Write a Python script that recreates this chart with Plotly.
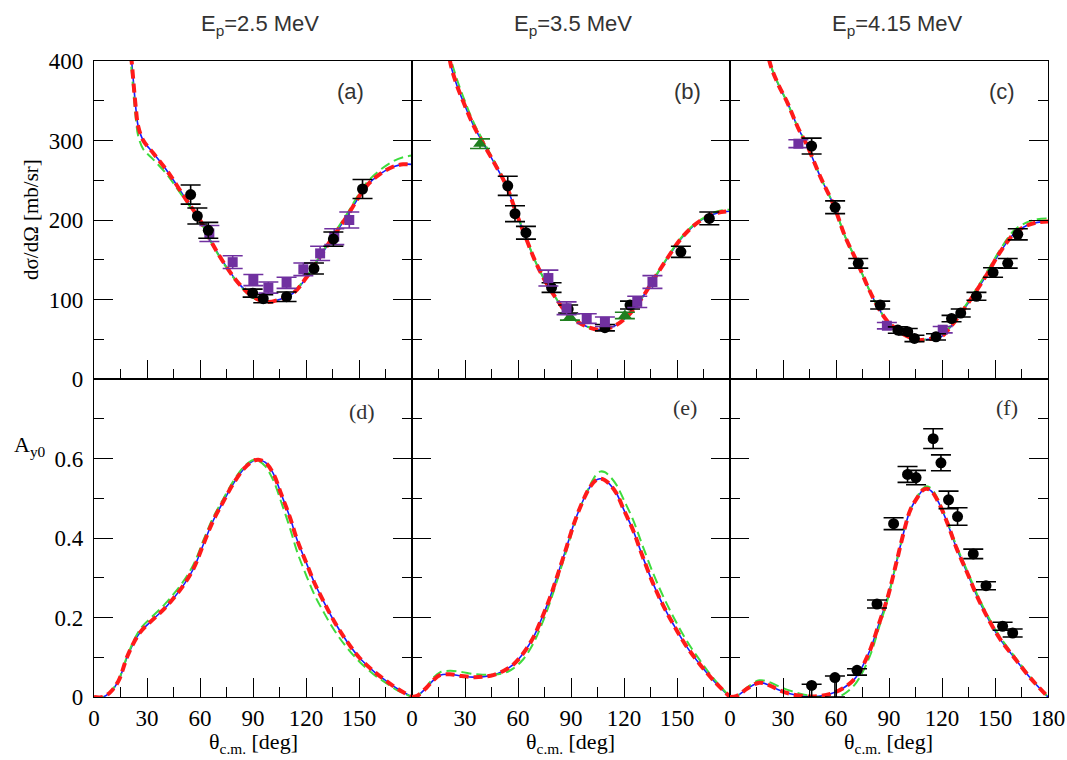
import plotly.graph_objects as go
from plotly.subplots import make_subplots

# ---------------- data ----------------
# Panel (a) Ep=2.5 MeV cross section
a_theta = [15, 18, 21.3, 23.8, 25, 27.9, 33.6, 41, 45, 52, 60, 67, 75, 82, 90, 97.7, 105, 112.8, 120, 128, 135, 143, 154, 162, 169.4, 175, 180]
a_blue = [600, 480, 400, 338, 318, 300, 284, 263, 250, 226, 200, 170, 141, 120, 103.5, 97, 100, 108, 127, 154, 178, 204, 242, 258, 267, 270, 270]
a_green = [600, 470, 388, 325, 306, 289, 276, 258, 246, 224, 199, 169, 140, 119, 102, 97, 100, 109, 128, 155, 180, 207, 246, 263, 274, 279, 281]
a_blk_x = [54.7, 58.5, 64.7, 89.8, 95.8, 109, 124.5, 135.5, 152]
a_blk_y = [232, 205, 187, 108, 101, 103.5, 139, 176, 239]
a_blk_e = [12, 10, 10, 5, 5, 6, 7, 9, 12]
a_pur_x = [65.3, 78.5, 90.2, 98.7, 109, 118.5, 128, 136, 144.5]
a_pur_y = [183, 147, 124.5, 115, 121, 138, 158, 179, 200]
a_pur_e = [10, 8, 7, 7, 7, 8, 9, 10, 10]

# Panel (b) Ep=3.5 MeV
b_theta = [15, 18, 21.5, 25, 29, 35, 40.4, 47, 53.6, 59, 64.9, 70, 76.2, 82, 87.5, 93, 98.9, 106.4, 114, 121.5, 129, 136.6, 144, 151.7, 159, 166.8, 173, 180]
b_blue = [560, 470, 400, 372, 349, 318, 296, 270, 242, 209, 175, 147, 120, 100, 83, 73, 66, 62, 66, 78, 98, 124.5, 150, 175, 192, 204, 209, 211]
b_green = [565, 478, 408, 380, 355, 322, 299, 272, 243, 210, 176, 147, 120, 100, 83, 73, 66, 62.5, 67, 79, 99, 125, 151, 176, 193, 205, 211, 213]
b_blk_x = [54.2, 58.3, 64.5, 79, 88.4, 109.2, 123.4, 152.2, 168.3]
b_blk_y = [243, 208, 184, 115, 88, 64.5, 93, 160, 202]
b_blk_e = [12, 10, 8, 6, 5, 4, 5, 7, 8]
b_pur_x = [77.2, 87.5, 98.9, 109.2, 127.5, 136.1]
b_pur_y = [127, 89, 76, 72, 97, 122]
b_pur_e = [10, 8, 6, 6, 7, 8]
b_grn_x = [38.5, 89.4, 120.5]
b_grn_y = [296, 78, 80]
b_grn_e = [6, 4, 4]

# Panel (c) Ep=4.15 MeV
c_theta = [15, 18, 22.3, 27, 32.6, 38.3, 44, 51, 59, 65, 72.3, 78, 83.6, 89, 94.9, 100, 106.2, 112, 119.4, 125, 130.7, 138, 145.8, 153, 160.9, 168, 174, 180]
c_blue = [560, 470, 400, 372, 347, 317, 292, 255, 217, 180, 145.5, 116, 91, 73, 61.6, 54, 49, 50, 53, 66, 82.6, 106, 133, 160, 183, 193, 197, 198]
c_green = [562, 472, 401, 373, 347, 317, 292, 255, 217, 180, 145.5, 116, 91, 73, 61.6, 54, 49, 50, 54, 67, 84, 108, 136, 163, 187, 197, 201, 202]
c_blk_x = [46.2, 59.5, 72.6, 85, 95, 100.6, 104.4, 116.6, 125.4, 130.6, 139.5, 148.9, 157.2, 162.9]
c_blk_y = [293, 216, 145.5, 93, 61.6, 59.5, 51, 53, 76, 83, 104, 134, 145.5, 182]
c_blk_e = [10, 8, 6, 5, 4, 4, 4, 4, 4, 5, 5, 6, 6, 7]
c_pur_x = [38.7, 88.8, 120.4]
c_pur_y = [296, 67, 62]
c_pur_e = [5, 4, 4]

# Panel (d) Ep=2.5 MeV analysing power
d_theta = [0, 5, 9, 13.8, 19.4, 26, 33.6, 40, 44.9, 50, 56.2, 62, 67.5, 73, 78.9, 85, 90.2, 93, 97, 101.5, 106, 110.9, 115, 120.4, 125, 129.8, 136, 143, 150, 158, 165, 172, 180]
d_blue = [0, 0, 0.011, 0.04, 0.108, 0.162, 0.196, 0.223, 0.248, 0.277, 0.322, 0.385, 0.444, 0.49, 0.537, 0.575, 0.594, 0.597, 0.59, 0.562, 0.51, 0.452, 0.395, 0.335, 0.285, 0.242, 0.19, 0.141, 0.1, 0.066, 0.042, 0.02, 0]
d_green = [0, 0, 0.012, 0.042, 0.11, 0.17, 0.205, 0.233, 0.258, 0.287, 0.332, 0.395, 0.452, 0.497, 0.543, 0.58, 0.596, 0.594, 0.58, 0.545, 0.49, 0.425, 0.365, 0.303, 0.255, 0.215, 0.168, 0.125, 0.09, 0.058, 0.036, 0.016, 0]

# Panel (e) Ep=3.5 MeV
e_theta = [0, 3, 8.3, 12, 15.8, 21.5, 28, 34.7, 40, 46, 52, 57.4, 63, 68.7, 73, 78.1, 83, 87.5, 92, 96.9, 101, 104, 106.4, 109, 112, 115.8, 120, 125.2, 130, 136.6, 142, 147.9, 155, 163, 171, 180]
e_blue = [0, 0.003, 0.024, 0.042, 0.055, 0.057, 0.053, 0.05, 0.051, 0.055, 0.066, 0.082, 0.11, 0.15, 0.193, 0.25, 0.315, 0.377, 0.44, 0.495, 0.53, 0.545, 0.549, 0.546, 0.535, 0.512, 0.47, 0.419, 0.36, 0.284, 0.232, 0.183, 0.13, 0.082, 0.04, 0]
e_green = [0, 0.003, 0.026, 0.048, 0.062, 0.066, 0.063, 0.058, 0.056, 0.056, 0.06, 0.072, 0.095, 0.135, 0.178, 0.238, 0.305, 0.37, 0.435, 0.495, 0.535, 0.558, 0.567, 0.566, 0.555, 0.533, 0.495, 0.445, 0.387, 0.31, 0.255, 0.202, 0.145, 0.092, 0.045, 0]

# Panel (f) Ep=4.15 MeV
f_theta = [0, 4, 10, 16.6, 22, 27, 34, 42, 50, 57, 64, 70.4, 75, 79.8, 84, 89.2, 94, 98.6, 102, 106.2, 109, 111.3, 114, 118, 123.2, 128, 134.5, 140, 145.8, 153, 160.9, 170, 180]
f_blue = [0, 0.003, 0.022, 0.036, 0.03, 0.019, 0.008, 0.002, 0.002, 0.008, 0.022, 0.045, 0.077, 0.124, 0.18, 0.25, 0.335, 0.419, 0.47, 0.503, 0.52, 0.524, 0.518, 0.49, 0.436, 0.377, 0.31, 0.252, 0.2, 0.145, 0.099, 0.048, 0]
f_green = [0, 0.003, 0.025, 0.042, 0.038, 0.028, 0.016, 0.006, 0.0, -0.004, 0.006, 0.03, 0.062, 0.11, 0.17, 0.245, 0.335, 0.42, 0.472, 0.506, 0.524, 0.53, 0.524, 0.495, 0.44, 0.382, 0.315, 0.257, 0.205, 0.15, 0.103, 0.05, 0]
f_blk_x = [46.2, 59.4, 71.9, 83.2, 92.6, 100.5, 105.3, 115, 119.4, 123.7, 128.8, 137.7, 144.9, 154.3, 160]
f_blk_y = [0.029, 0.049, 0.067, 0.234, 0.436, 0.56, 0.552, 0.65, 0.589, 0.496, 0.454, 0.36, 0.28, 0.178, 0.161]
f_blk_eup = [0.003, 0.004, 0.004, 0.01, 0.015, 0.02, 0.018, 0.025, 0.02, 0.022, 0.022, 0.012, 0.01, 0.01, 0.01]
f_blk_edn = [0.029, 0.049, 0.012, 0.01, 0.015, 0.02, 0.018, 0.025, 0.02, 0.022, 0.022, 0.012, 0.01, 0.01, 0.01]

titles = ["E<sub>p</sub>=2.5 MeV", "E<sub>p</sub>=3.5 MeV", "E<sub>p</sub>=4.15 MeV"]
labels = ["(a)", "(b)", "(c)", "(d)", "(e)", "(f)"]
x_major = [0, 30, 60, 90, 120, 150, 180]
x_minor = [15, 45, 75, 105, 135, 165]
y1_major = [0, 100, 200, 300, 400]
y1_minor = [50, 150, 250, 350]
y2_major = [0, 0.2, 0.4, 0.6, 0.8]
y2_minor = [0.1, 0.3, 0.5, 0.7]

# ---------------- styles ----------------
BLUE = "#1a1aff"
RED = "#ff1a1a"
GREEN = "#3ddc3d"
PURPLE = "#7030a0"
DKGREEN = "#1f7f1f"
SERIF = "Liberation Serif"
SANS = "Liberation Sans"

fig = make_subplots(rows=2, cols=3, horizontal_spacing=0, vertical_spacing=0)

curves = [
    (1, 1, a_theta, a_blue, a_green),
    (1, 2, b_theta, b_blue, b_green),
    (1, 3, c_theta, c_blue, c_green),
    (2, 1, d_theta, d_blue, d_green),
    (2, 2, e_theta, e_blue, e_green),
    (2, 3, f_theta, f_blue, f_green),
]
for r, c, th, bl, gr in curves:
    fig.add_trace(go.Scatter(x=th, y=bl, mode="lines", line=dict(color=BLUE, width=1.6, shape="spline", smoothing=1.0),
                             showlegend=False, hoverinfo="skip"), row=r, col=c)
    fig.add_trace(go.Scatter(x=th, y=gr, mode="lines", line=dict(color=GREEN, width=2, dash="10px,5px", shape="spline", smoothing=1.0),
                             showlegend=False, hoverinfo="skip"), row=r, col=c)
    fig.add_trace(go.Scatter(x=th, y=bl, mode="lines", line=dict(color=RED, width=4, dash="9px,5px", shape="spline", smoothing=1.0),
                             showlegend=False, hoverinfo="skip"), row=r, col=c)


def pts(r, c, x, y, e, color, symbol, size, em=None):
    err = dict(type="data", array=e, color=color, thickness=1.6, width=10)
    if em is not None:
        err.update(symmetric=False, arrayminus=em)
    fig.add_trace(go.Scatter(x=x, y=y, mode="markers",
                             marker=dict(color=color, symbol=symbol, size=size, line=dict(width=0)),
                             error_y=err, showlegend=False, cliponaxis=True), row=r, col=c)


pts(1, 1, a_pur_x, a_pur_y, a_pur_e, PURPLE, "square", 10)
pts(1, 1, a_blk_x, a_blk_y, a_blk_e, "black", "circle", 11)
pts(1, 2, b_grn_x, b_grn_y, b_grn_e, DKGREEN, "triangle-up", 12)
pts(1, 2, b_blk_x, b_blk_y, b_blk_e, "black", "circle", 11)
pts(1, 2, b_pur_x, b_pur_y, b_pur_e, PURPLE, "square", 10)
pts(1, 3, c_pur_x, c_pur_y, c_pur_e, PURPLE, "square", 10)
pts(1, 3, c_blk_x, c_blk_y, c_blk_e, "black", "circle", 11)
pts(2, 3, f_blk_x, f_blk_y, f_blk_eup, "black", "circle", 11, em=f_blk_edn)

tickfont = dict(family=SERIF, size=23, color="black")
LW = 1.3
for i in range(1, 7):
    r = 1 if i <= 3 else 2
    col = (i - 1) % 3
    xa = "xaxis" if i == 1 else f"xaxis{i}"
    ya = "yaxis" if i == 1 else f"yaxis{i}"
    if r == 2:
        ttext = [str(v) for v in x_major]
        if col < 2:
            ttext[-1] = ""
        showx = True
    else:
        ttext = [""] * len(x_major)
        showx = False
    fig.layout[xa].update(range=[0, 180], showline=True, linecolor="black", linewidth=LW, mirror=True,
                          ticks="inside", ticklen=19, tickwidth=1.4, tickcolor="black",
                          tickmode="array", tickvals=x_major, ticktext=ttext, showticklabels=showx,
                          minor=dict(tickvals=x_minor, ticks="inside", ticklen=10, tickwidth=1.4, tickcolor="black"),
                          showgrid=False, zeroline=False, tickfont=tickfont, fixedrange=True)
    if r == 1:
        yv, ym, yr = y1_major, y1_minor, [0, 400]
        ytext = [str(v) for v in yv]
    else:
        yv, ym, yr = y2_major, y2_minor, [0, 0.8]
        ytext = ["0", "0.2", "0.4", "0.6", ""]
    fig.layout[ya].update(range=yr, showline=True, linecolor="black", linewidth=LW, mirror="ticks",
                          ticks="inside", ticklen=19, tickwidth=1.4, tickcolor="black",
                          tickmode="array", tickvals=yv, ticktext=ytext, showticklabels=(col == 0),
                          minor=dict(tickvals=ym, ticks="inside", ticklen=10, tickwidth=1.4, tickcolor="black"),
                          showgrid=False, zeroline=False, tickfont=tickfont, ticklabelstandoff=5, fixedrange=True)

L, R, T, B = 94, 19, 61, 63
W, H = 1067, 760
pw, ph = W - L - R, H - T - B


def px(x):
    return (x - L) / pw


def py(y):
    return (H - B - y) / ph


ann = []
for j, (t, cx) in enumerate(zip(titles, [260, 573, 897])):
    ann.append(dict(text=t, x=px(cx), y=py(25), xref="paper", yref="paper", showarrow=False,
                    font=dict(family=SANS, size=22, color="#333333"), xanchor="center", yanchor="middle"))
lab_pos = [(350, 91), (687, 91), (1002, 91), (362, 411), (685, 408), (1007, 408)]
for k, (lab, (lx, ly)) in enumerate(zip(labels, lab_pos)):
    fam = SANS if k < 3 else SERIF
    ann.append(dict(text=lab, x=px(lx), y=py(ly), xref="paper", yref="paper", showarrow=False,
                    font=dict(family=fam, size=22, color="#333333"), xanchor="center", yanchor="middle"))
ann.append(dict(text="dσ/dΩ [mb/sr]", x=px(31), y=py(220), xref="paper", yref="paper", showarrow=False,
                textangle=-90, font=dict(family=SERIF, size=21, color="black"), xanchor="center", yanchor="middle"))
ann.append(dict(text="A<sub>y0</sub>", x=px(30), y=py(446), xref="paper", yref="paper", showarrow=False,
                font=dict(family=SERIF, size=22, color="black"), xanchor="center", yanchor="middle"))
for cx in [253, 570, 888]:
    ann.append(dict(text="θ<sub>c.m.</sub> [deg]", x=px(cx), y=py(743), xref="paper", yref="paper", showarrow=False,
                    font=dict(family=SERIF, size=22, color="black"), xanchor="center", yanchor="middle"))

fig.update_layout(width=W, height=H, margin=dict(l=L, r=R, t=T, b=B, autoexpand=False),
                  paper_bgcolor="white", plot_bgcolor="white", annotations=ann, showlegend=False)

fig.write_html("out.html")
